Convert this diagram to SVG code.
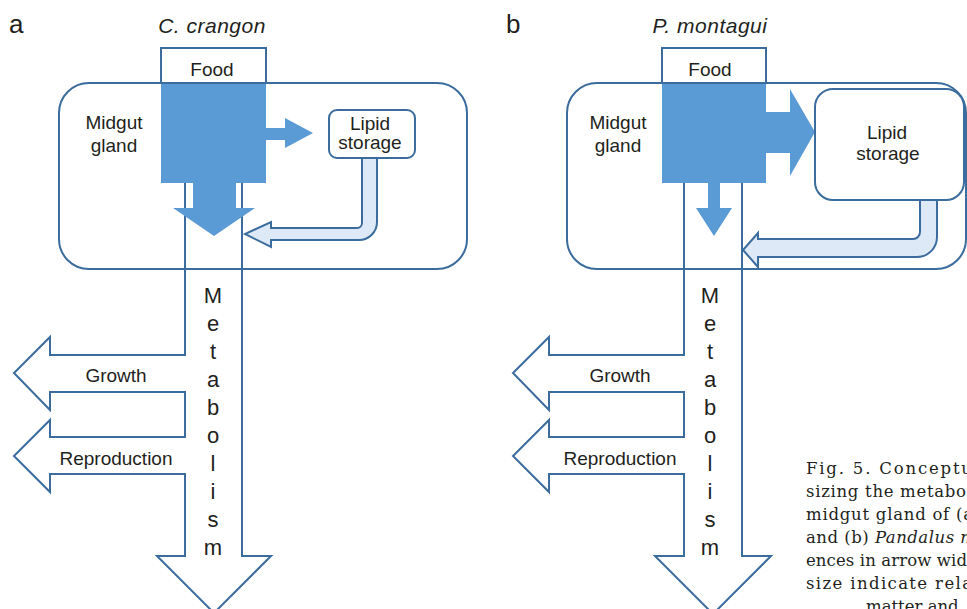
<svg xmlns="http://www.w3.org/2000/svg" width="967" height="609" viewBox="0 0 967 609">
<style>
.ln{fill:none;stroke:#3a6c9e;stroke-width:2;stroke-linejoin:miter}
.box{fill:#ffffff;stroke:#3a6c9e;stroke-width:2}
.fill{fill:#5b9bd5;stroke:none}
.ret{fill:#dde9f6;stroke:#3a6c9e;stroke-width:2;stroke-linejoin:miter}
.t{font-family:"Liberation Sans",Arial,sans-serif;font-size:19px;fill:#231f20;text-anchor:middle}
.m{font-family:"Liberation Sans",Arial,sans-serif;font-size:22px;fill:#231f20;text-anchor:middle}
.ti{font-family:"Liberation Sans",Arial,sans-serif;font-size:21px;font-style:italic;fill:#231f20;text-anchor:middle;letter-spacing:0.5px}
.pl{font-family:"Liberation Sans",Arial,sans-serif;font-size:26px;fill:#231f20}
.cap{font-family:"DejaVu Serif","Liberation Serif",serif;font-size:16.5px;fill:#231f20}
</style>
<rect width="967" height="609" fill="#ffffff"/>

<!-- Panel a -->
<g id="panel-a">
  <text class="pl" x="9" y="33">a</text>
  <text class="ti" x="212" y="33">C. crangon</text>
  <g id="a-midgut">
    <rect class="box" x="59" y="83" width="408" height="186" rx="30"/>
    <text class="t" x="114" y="129">Midgut</text>
    <text class="t" x="114" y="152">gland</text>
  </g>
  <g id="a-connectors">
    <path class="ln" d="M185,183 V355 H50 V337 L14,373 L50,410 V392 H185 V437 H50 V420 L14,456 L50,492 V474 H185 V556 H157 L214,613 L271,556 H242 V183"/>
    <rect class="fill" x="161" y="83" width="105" height="100"/>
    <polygon class="fill" points="265,128 285,128 285,118 313,133 285,148 285,140 265,140"/>
    <polygon class="fill" points="193,182 236,182 236,208 255,208 214,236 173,208 193,208"/>
    <path class="ret" d="M362,157 V223 A5,5 0 0 1 357,228 H271 V222 L245,234 L271,247 V240 H359 A18,18 0 0 0 377,222 V157"/>
  </g>
  <g id="a-food">
    <rect class="box" x="161" y="48" width="105" height="35"/>
    <text class="t" x="212" y="76">Food</text>
  </g>
  <g id="a-lipid">
    <rect class="box" x="329" y="110" width="86" height="48" rx="8"/>
    <text class="t" x="370" y="130">Lipid</text>
    <text class="t" x="370" y="149">storage</text>
  </g>
  <g id="a-metabolism">
    <text class="m" x="213" y="303">M</text>
    <text class="m" x="213" y="331">e</text>
    <text class="m" x="213" y="359">t</text>
    <text class="m" x="213" y="387">a</text>
    <text class="m" x="213" y="415">b</text>
    <text class="m" x="213" y="443">o</text>
    <text class="m" x="213" y="471">l</text>
    <text class="m" x="213" y="499">i</text>
    <text class="m" x="213" y="527">s</text>
    <text class="m" x="213" y="555">m</text>
  </g>
  <g id="a-growth"><text class="t" x="116" y="382">Growth</text></g>
  <g id="a-reproduction"><text class="t" x="116" y="465">Reproduction</text></g>
</g>

<!-- Panel b -->
<g id="panel-b">
  <text class="pl" x="506" y="33">b</text>
  <text class="ti" x="710" y="33">P. montagui</text>
  <g id="b-midgut">
    <rect class="box" x="567" y="83" width="399" height="186" rx="30"/>
    <text class="t" x="618" y="129">Midgut</text>
    <text class="t" x="618" y="152">gland</text>
  </g>
  <g id="b-connectors">
    <path class="ln" d="M684,183 V355 H549 V337 L513,373 L549,410 V392 H684 V437 H549 V420 L513,456 L549,492 V474 H684 V556 H655 L713,614 L771,556 H742 V183"/>
    <rect class="fill" x="662" y="83" width="104" height="100"/>
    <polygon class="fill" points="765,112 790,112 790,89 815,132 790,176 790,153 765,153"/>
    <polygon class="fill" points="708,182 720,182 720,208 732,208 714,236 696,208 708,208"/>
    <path class="ret" d="M920,199 V232 A7,7 0 0 1 913,239 H758 V233 L743,250 L758,267 V257 H917 A20,20 0 0 0 937,237 V199"/>
  </g>
  <g id="b-food">
    <rect class="box" x="662" y="48" width="104" height="35"/>
    <text class="t" x="710" y="76">Food</text>
  </g>
  <g id="b-lipid">
    <rect class="box" x="815" y="89" width="149" height="111" rx="18"/>
    <text class="t" x="887" y="139">Lipid</text>
    <text class="t" x="888" y="160">storage</text>
  </g>
  <g id="b-metabolism">
    <text class="m" x="710" y="303">M</text>
    <text class="m" x="710" y="331">e</text>
    <text class="m" x="710" y="359">t</text>
    <text class="m" x="710" y="387">a</text>
    <text class="m" x="710" y="415">b</text>
    <text class="m" x="710" y="443">o</text>
    <text class="m" x="710" y="471">l</text>
    <text class="m" x="710" y="499">i</text>
    <text class="m" x="710" y="527">s</text>
    <text class="m" x="710" y="555">m</text>
  </g>
  <g id="b-growth"><text class="t" x="620" y="382">Growth</text></g>
  <g id="b-reproduction"><text class="t" x="620" y="465">Reproduction</text></g>
</g>

<!-- Caption -->
<g id="caption">
  <text class="cap" x="806" y="474" textLength="166" lengthAdjust="spacing">Fig. 5. Conceptu</text>
  <text class="cap" x="806" y="497" textLength="160" lengthAdjust="spacing">sizing the metabo</text>
  <text class="cap" x="806" y="520" textLength="167" lengthAdjust="spacing">midgut gland of (a</text>
  <text class="cap" x="806" y="543" textLength="170" lengthAdjust="spacing">and (b) <tspan font-style="italic">Pandalus m</tspan></text>
  <text class="cap" x="806" y="566" textLength="161" lengthAdjust="spacing">ences in arrow wid</text>
  <text class="cap" x="806" y="589" textLength="166" lengthAdjust="spacing">size indicate rela</text>
  <text class="cap" x="866" y="612">matter and</text>
</g>
</svg>
